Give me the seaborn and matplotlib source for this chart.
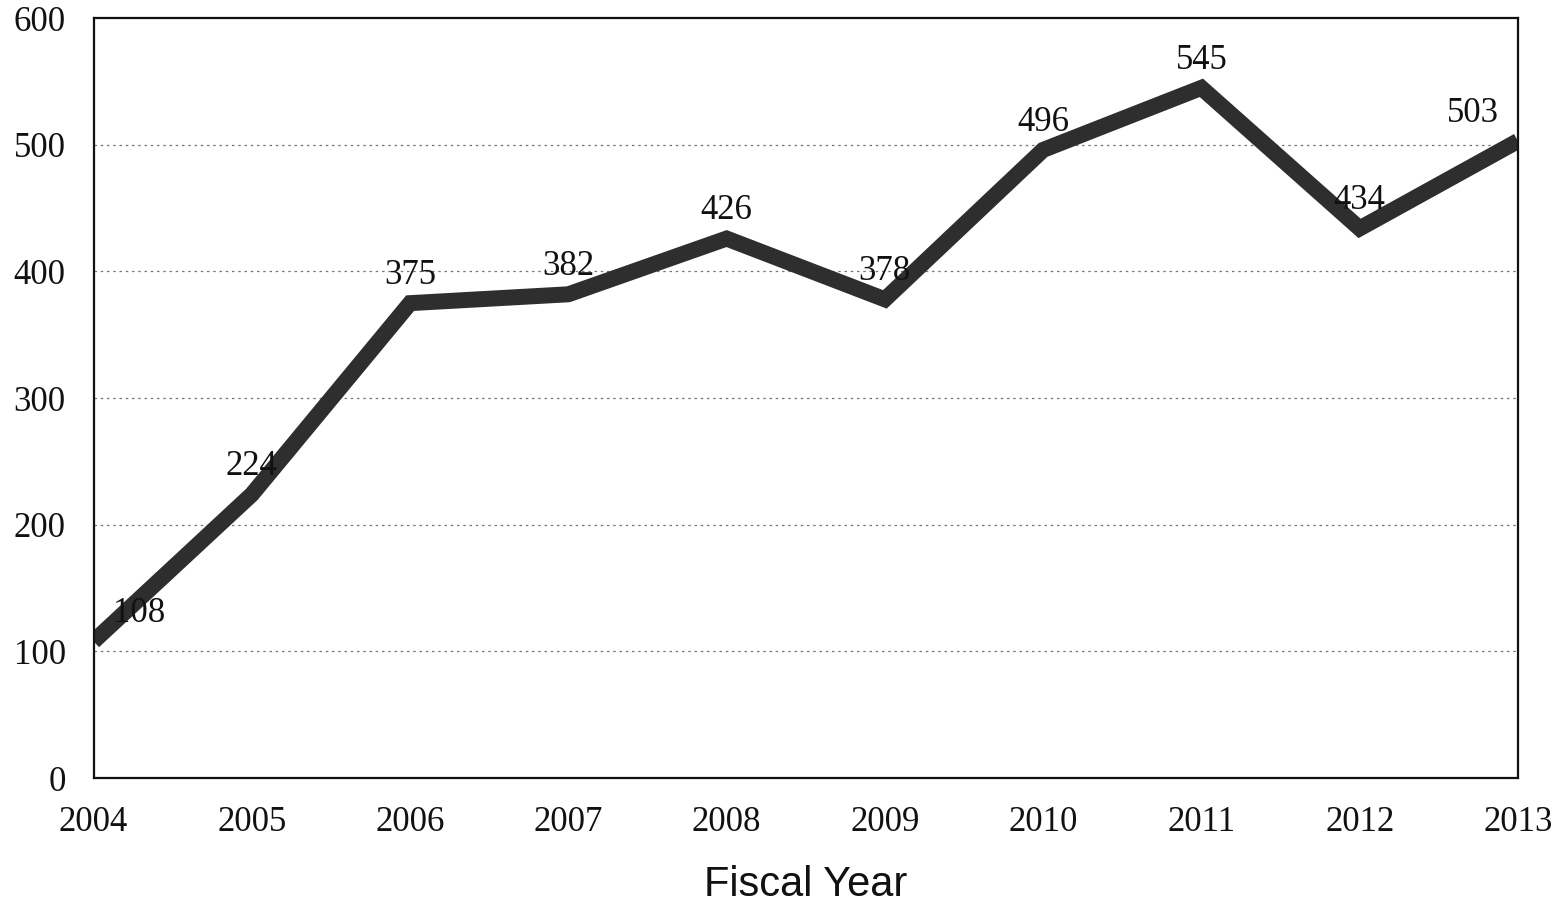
import matplotlib
matplotlib.use("Agg")
import matplotlib.pyplot as plt
import seaborn as sns
import pandas as pd

# data
years = [2004, 2005, 2006, 2007, 2008, 2009, 2010, 2011, 2012, 2013]
counts = [108, 224, 375, 382, 426, 378, 496, 545, 434, 503]

df = pd.DataFrame({'year': years, 'count': counts})

sns.set_theme(style='white')
plt.rcParams['font.family'] = ['Liberation Serif', 'DejaVu Serif']

fig = plt.figure(figsize=(15.6, 9.09), dpi=100)
ax = fig.add_axes([0.06, 0.144, 0.913, 0.836])

sns.lineplot(data=df, x='year', y='count', ax=ax, color='#2e2e2e',
             linewidth=11.5, solid_joinstyle='miter', solid_capstyle='butt')

ax.set_xlim(years[0], years[-1])
ax.set_ylim(0, 600)
ax.set_yticks(range(0, 601, 100))
ax.set_xticks(years)
ax.tick_params(axis='both', length=0, labelsize=25, colors='#111111')
ax.tick_params(axis='y', pad=20)
ax.tick_params(axis='x', pad=20)

# dotted horizontal gridlines
for y in range(100, 600, 100):
    ax.axhline(y, color='#777777', linestyle=(0, (2, 3)), linewidth=0.9, zorder=0)

for s in ax.spines.values():
    s.set_color('#111111')
    s.set_linewidth(1.6)

# value labels
for i, (x, y) in enumerate(zip(years, counts)):
    dx = 0
    if i == 0:
        dx = 33
    elif i == len(years) - 1:
        dx = -32
    ax.annotate(str(y), (x, y), xytext=(dx, 8), textcoords='offset points',
                ha='center', va='bottom', fontsize=25, color='#111111')

ax.set_ylabel('')
ax.set_xlabel('Fiscal Year', fontsize=30, family=['Liberation Sans', 'DejaVu Sans'],
              labelpad=19, color='#111111')

fig.savefig('out.png', dpi=100)
